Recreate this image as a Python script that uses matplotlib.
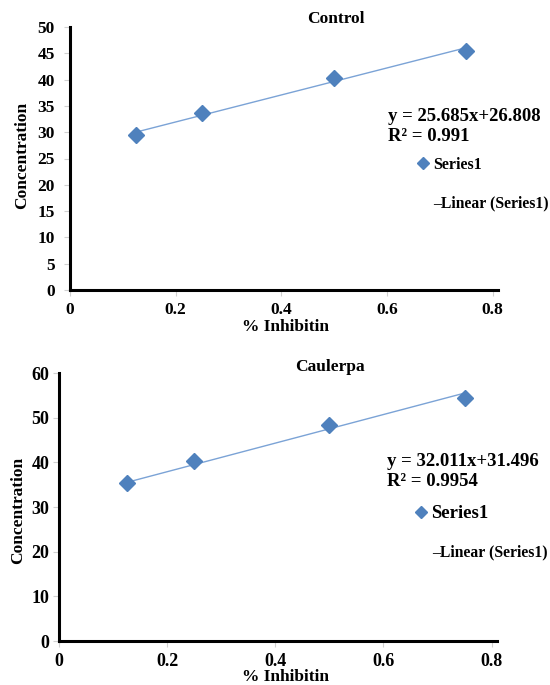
import numpy as np
import matplotlib
matplotlib.use("Agg")
from matplotlib import pyplot as plt

plt.rcParams['font.family'] = ['Liberation Serif', 'DejaVu Serif']
plt.rcParams['font.weight'] = 'bold'

# data
inhib = [0.125, 0.25, 0.5, 0.75]
control_conc = [29.5, 33.6, 40.3, 45.4]
caulerpa_conc = [35.3, 40.2, 48.4, 54.4]

control_fit = (25.685, 26.808)
caulerpa_fit = (32.011, 31.496)
control_eq = "y = 25.685x+26.808\nR\u00b2 = 0.991"
caulerpa_eq = "y = 32.011x+31.496\nR\u00b2 = 0.9954"

x_ticks = [0, 0.2, 0.4, 0.6, 0.8]
x_ticklabels = ['0', '0.2', '0.4', '0.6', '0.8']
control_yticks = list(range(0, 55, 5))
caulerpa_yticks = list(range(0, 70, 10))

blue = '#4F81BD'
line_blue = '#7BA3D6'

fig = plt.figure(figsize=(5.5, 6.85), dpi=100)


def W(px):
    return px / 550


def H(px):
    return px / 685


def panel(rect, title, y, fit, eq, yticks, ylim, tick_fs, legend_fs, pos):
    ax = fig.add_axes(rect)
    ax.plot(inhib, y, linestyle='none', marker='D', ms=8, color=blue, zorder=3)
    xs = np.array([inhib[0], inhib[-1]])
    ax.plot(xs, fit[0] * xs + fit[1], color=line_blue, lw=1, zorder=2)
    ax.set_xlim(0, 0.81)
    ax.set_ylim(*ylim)
    for s in ['top', 'right']:
        ax.spines[s].set_visible(False)
    for s in ['left', 'bottom']:
        ax.spines[s].set_linewidth(2.2)
        ax.spines[s].set_color('black')
    ax.set_xticks(x_ticks)
    ax.set_xticklabels(x_ticklabels, fontsize=tick_fs, fontweight='bold')
    ax.set_yticks(yticks)
    ax.set_yticklabels([str(v) for v in yticks], fontsize=tick_fs, fontweight='bold')
    ax.tick_params(axis='both', length=4, width=0.8, color='#d0d0d0')
    ax.tick_params(axis='x', pad=5)
    ax.tick_params(axis='y', pad=pos['ypad'])
    fig.text(W(pos['title'][0]), H(685 - pos['title'][1]), title, ha='center', va='center',
             fontsize=12.5, fontweight='bold')
    fig.text(W(pos['ylab'][0]), H(685 - pos['ylab'][1]), 'Concentration', rotation=90,
             ha='center', va='center', fontsize=12.5, fontweight='bold')
    fig.text(W(pos['xlab'][0]), H(685 - pos['xlab'][1]), '% Inhibitin', ha='center', va='center',
             fontsize=12.5, fontweight='bold')
    fig.text(W(pos['eq'][0]), H(685 - pos['eq'][1]), eq, ha='left', va='top',
             fontsize=13.5, fontweight='bold', linespacing=1.25)
    fig.lines.append(plt.Line2D([W(pos['mk'][0])], [H(685 - pos['mk'][1])], marker='D', ms=6,
                                color=blue, linestyle='none', transform=fig.transFigure))
    fig.text(W(pos['mk'][0] + 10), H(685 - pos['mk'][1] - 2), 'Series1', ha='left', va='center',
             fontsize=legend_fs, fontweight='bold')
    fig.text(W(pos['lin'][0]), H(685 - pos['lin'][1]), '\u2013Linear (Series1)', ha='left',
             va='center', fontsize=11.3, fontweight='bold')
    return ax


panel([W(70), H(685 - 290), W(428), H(263)], 'Control', control_conc, control_fit, control_eq,
      control_yticks, (0, 50), 12.5, 11.5,
      dict(ypad=7, title=(336, 19), ylab=(22, 155), xlab=(286, 327), eq=(388, 108),
           mk=(423, 163), lin=(433, 203)))

panel([W(59), H(685 - 641), W(438), H(268)], 'Caulerpa', caulerpa_conc, caulerpa_fit, caulerpa_eq,
      caulerpa_yticks, (0, 60), 13, 13.5,
      dict(ypad=3, title=(330, 367), ylab=(18, 510), xlab=(285, 677), eq=(387, 453),
           mk=(421, 512), lin=(432, 552)))

plt.savefig('out.png', dpi=100)
